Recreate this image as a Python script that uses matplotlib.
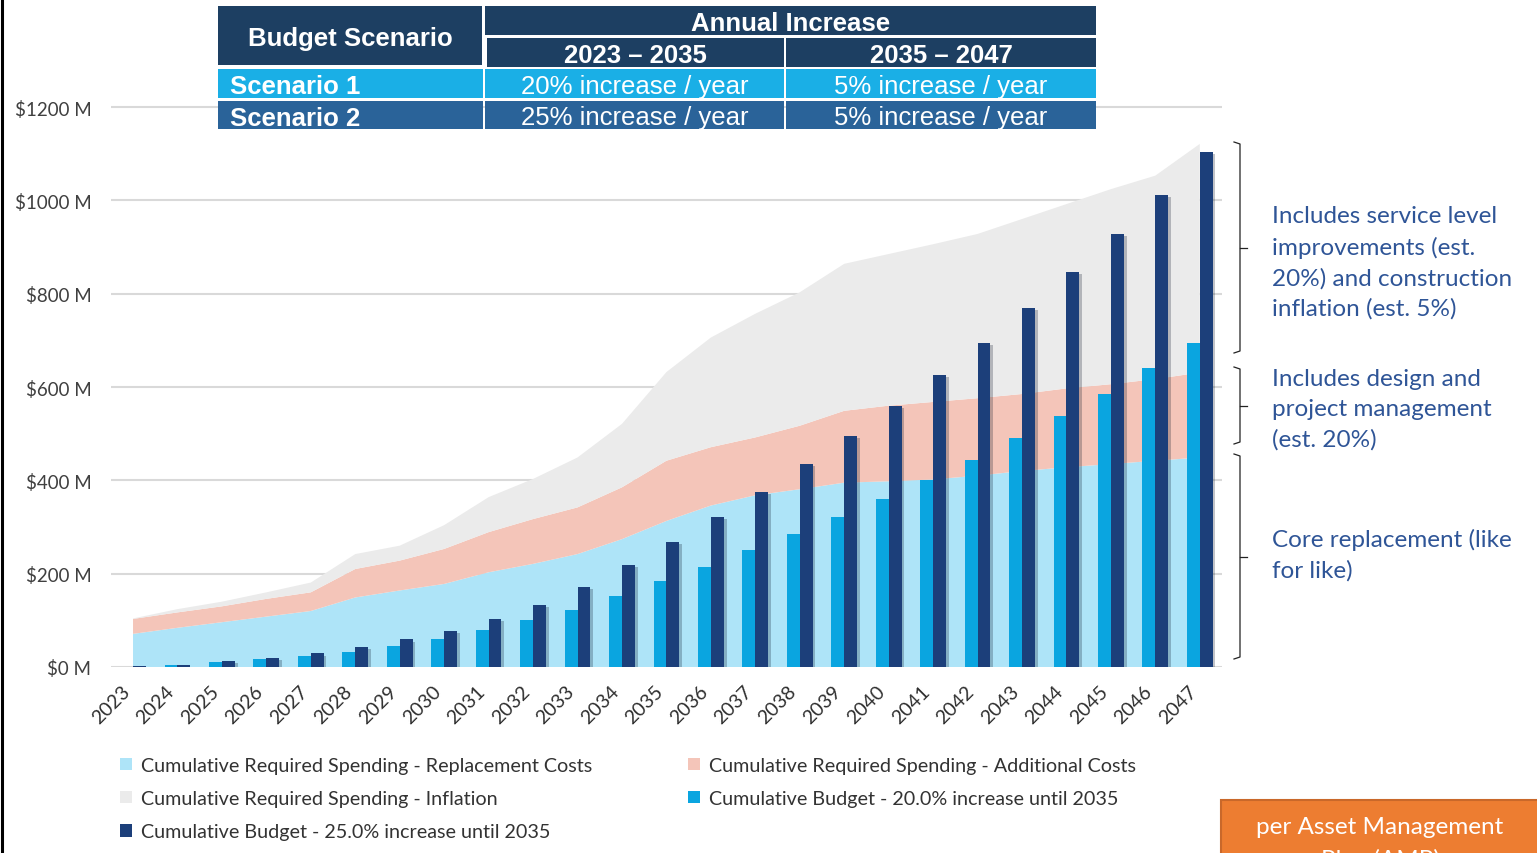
import numpy as np
import matplotlib
matplotlib.use("Agg")
import matplotlib.pyplot as plt
import matplotlib.patheffects as pe
import matplotlib.transforms as mtransforms
from matplotlib.patches import Rectangle, Patch
from matplotlib.lines import Line2D

plt.rcParams['font.family'] = ['Lato', 'DejaVu Sans']

# ---- data (values in $ millions) ----
years = [str(y) for y in range(2023, 2048)]
replacement = [71, 84, 96, 108, 120, 149, 164, 178, 203, 221, 242, 274, 313,
               346, 368, 381, 395, 398, 402, 410, 420, 428, 435, 442, 449]
additional = [32, 33, 34, 38, 40, 61, 64, 75, 86, 96, 100, 111, 129,
              125, 124, 136, 154, 162, 166, 166, 165, 169, 171, 175, 182]
inflation = [1, 7, 10, 14, 21, 32, 32, 51, 75, 86, 107, 136, 190,
             235, 265, 286, 315, 325, 338, 352, 375, 395, 418, 436, 490]
budget_20 = [0.5, 4, 10, 17, 24, 33, 46, 61, 79, 100, 123, 152, 184,
             214, 250, 284, 321, 361, 401, 443, 490, 538, 586, 640, 694]
budget_25 = [1.5, 5, 12, 20, 29, 42, 59, 77, 103, 133, 171, 218, 267,
             321, 376, 435, 495, 559, 625, 694, 769, 846, 928, 1012, 1103]
yticks = [0, 200, 400, 600, 800, 1000, 1200]

# table content
scenario_names = ["Scenario 1", "Scenario 2"]
period_labels = ["2023 \u2013 2035", "2035 \u2013 2047"]
rate_early = [20, 25]
rate_late = [5, 5]

legend_labels = [
    "Cumulative Required Spending - Replacement Costs",
    "Cumulative Required Spending - Additional Costs",
    "Cumulative Required Spending - Inflation",
    "Cumulative Budget - 20.0% increase until 2035",
    "Cumulative Budget - 25.0% increase until 2035",
]
notes = [
    "Includes service level\nimprovements (est.\n20%) and construction\ninflation (est. 5%)",
    "Includes design and\nproject management\n(est. 20%)",
    "Core replacement (like\nfor like)",
]

c_rep, c_add, c_inf = "#AEE4F8", "#F4C5B9", "#EBEBEB"
c_b20, c_b25 = "#0AA5E0", "#1C3F7A"
c_head, c_s1, c_s2 = "#1D3F62", "#1AAFE6", "#2A6399"
c_note = "#2F5597"

W, H = 1537, 854
fig = plt.figure(figsize=(W / 100, H / 100), dpi=100)


def fx(x):
    return x / W


def fy(y):
    return 1 - y / H


# ---- main chart ----
ax = fig.add_axes([fx(110.8), fy(668), (1222 - 110.8) / W, 583.3 / H])
x = np.arange(len(years))
ax.stackplot(x, replacement, additional, inflation,
             colors=[c_rep, c_add, c_inf], linewidth=0, zorder=1)
shadow = [pe.SimplePatchShadow(offset=(2, -1.5), alpha=0.25), pe.Normal()]
bw = 0.29
b1 = ax.bar(x - bw / 2, budget_20, bw, color=c_b20, zorder=3)
b2 = ax.bar(x + bw / 2, budget_25, bw, color=c_b25, zorder=3)
for bars in (b1, b2):
    for p in bars:
        p.set_path_effects(shadow)

ax.set_xlim(-0.5, len(years) - 0.5)
ax.set_ylim(0, 1250)
ax.set_yticks(yticks)
ax.set_yticklabels([f"${v} M" for v in yticks], fontsize=13.5, color="#404040")
ax.set_xticks(x)
ax.set_xticklabels(years, rotation=45, ha="right", fontsize=14, color="#303030")
shift = mtransforms.ScaledTranslation(5 / 100, 0, fig.dpi_scale_trans)
for lbl in ax.get_xticklabels():
    lbl.set_transform(lbl.get_transform() + shift)
ax.tick_params(axis="both", length=0)
ax.tick_params(axis="y", pad=14)
ax.tick_params(axis="x", pad=11)
ax.grid(axis="y", color="#D9D9D9", linewidth=1.5, zorder=0)
ax.set_axisbelow(True)
for s in ax.spines.values():
    s.set_visible(False)

# ---- legend ----
handles = [
    Patch(facecolor=c_rep, edgecolor="none"),
    Patch(facecolor=c_inf, edgecolor="none"),
    Patch(facecolor=c_b25, edgecolor="none"),
    Patch(facecolor=c_add, edgecolor="none"),
    Patch(facecolor=c_b20, edgecolor="none"),
]
labels = [legend_labels[0], legend_labels[2], legend_labels[4],
          legend_labels[1], legend_labels[3]]
fig.legend(handles, labels, loc="upper left", bbox_to_anchor=(fx(110), fy(748)),
           ncol=2, frameon=False, fontsize=14.2, handlelength=0.6,
           handleheight=0.6, handletextpad=0.45, labelspacing=0.82,
           columnspacing=4.9, borderpad=0, labelcolor="#333333")

# ---- table ----
def cell(x0, y0, x1, y1, color, text="", bold=False, ha="center", tx=None):
    fig.add_artist(Rectangle((fx(x0), fy(y1)), (x1 - x0) / W, (y1 - y0) / H,
                             transform=fig.transFigure, facecolor=color,
                             edgecolor="none", zorder=10))
    if text:
        xt = (x0 + x1) / 2 if tx is None else tx
        fig.text(fx(xt), fy((y0 + y1) / 2), text, ha=ha, va="center_baseline",
                 color="white", fontsize=18.5, family="Liberation Sans",
                 fontweight="bold" if bold else "normal", zorder=11)


cell(218, 7, 482, 66, c_head, "Budget Scenario", bold=True)
cell(485, 7, 1096, 36, c_head, "Annual Increase", bold=True)
cell(487, 39, 784, 68, c_head, period_labels[0], bold=True)
cell(786, 39, 1096, 68, c_head, period_labels[1], bold=True)
row_y = [(70, 99), (102, 130)]
row_c = [c_s1, c_s2]
for i in range(len(scenario_names)):
    y0, y1 = row_y[i]
    cell(218, y0, 483, y1, row_c[i], scenario_names[i], bold=True, ha="left", tx=230)
    cell(485, y0, 784, y1, row_c[i], f"{rate_early[i]}% increase / year")
    cell(786, y0, 1096, y1, row_c[i], f"{rate_late[i]}% increase / year")

# ---- brackets and notes ----
brackets = [(143, 354), (368, 445), (455, 660)]
note_y = [263, 410, 555]
for (ya, yb), ny, txt in zip(brackets, note_y, notes):
    fig.add_artist(Line2D([fx(v) for v in [1234, 1240, 1240, 1234]],
                          [fy(v) for v in [ya, ya + 2, yb - 2, yb]],
                          transform=fig.transFigure, color="#222222", lw=0.9))
    ym = (ya + yb) / 2
    fig.add_artist(Line2D([fx(1240), fx(1247)], [fy(ym), fy(ym)],
                          transform=fig.transFigure, color="#222222", lw=0.9))
    fig.text(fx(1272), fy(ny), txt, ha="left", va="center", fontsize=17.5,
             color=c_note, linespacing=1.52)

# ---- orange box (second line runs off the bottom edge, as in the source) ----
fig.add_artist(Rectangle((fx(1221), fy(880)), (1560 - 1221) / W, (880 - 801) / H,
                         transform=fig.transFigure, facecolor="#ED7D31",
                         edgecolor="#C9682A", linewidth=1.5, zorder=10))
fig.text(fx(1380), fy(828), "per Asset Management", ha="center", va="center",
         color="white", fontsize=17.5, zorder=11)
fig.text(fx(1380), fy(860), "Plan (AMP)", ha="center", va="center",
         color="white", fontsize=17.5, zorder=11)

# left border
fig.add_artist(Line2D([fx(1.5), fx(1.5)], [0, 1], transform=fig.transFigure,
                      color="black", lw=2.2))

fig.savefig("out.png", dpi=100)
